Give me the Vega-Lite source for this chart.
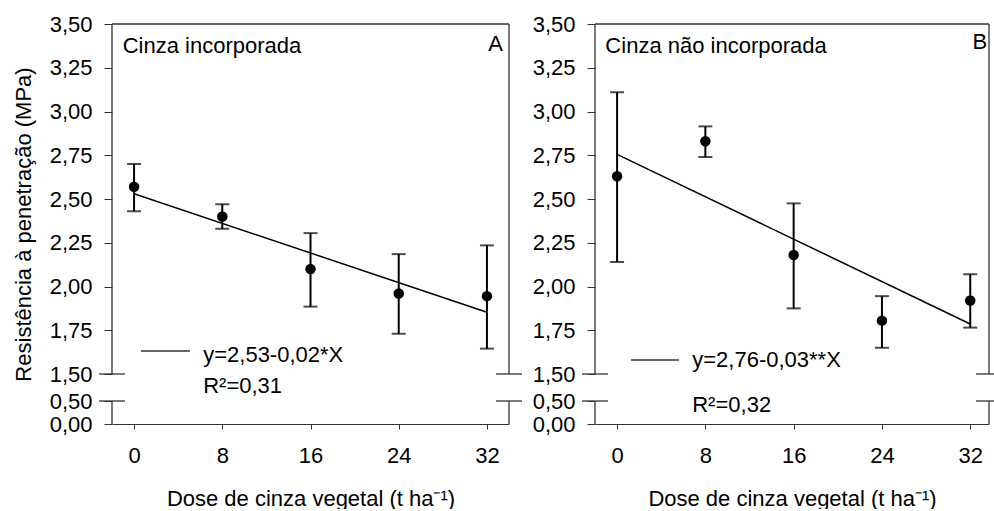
{
  "$schema": "https://vega.github.io/schema/vega-lite/v6.json",
  "background": "white",
  "padding": {"left": 12, "top": 13, "right": 0, "bottom": 0},
  "bounds": "flush",
  "spacing": 86,
  "config": {
    "view": {"stroke": null},
    "font": "Liberation Sans",
    "axis": {"labelFont": "Liberation Sans", "labelFontSize": 22, "labelColor": "black", "titleFont": "Liberation Sans", "titleFontSize": 22, "titleFontWeight": "normal", "titleColor": "black", "tickColor": "#333", "domainColor": "#333", "grid": false, "labelOverlap": false},
    "text": {"font": "Liberation Sans", "fontSize": 22, "color": "black"},
    "rule": {"color": "#333", "strokeWidth": 1.3}
  },
  "datasets": {
    "a": [
      {"dose": 0, "rp": 2.57, "lo": 2.43, "hi": 2.70},
      {"dose": 8, "rp": 2.40, "lo": 2.33, "hi": 2.47},
      {"dose": 16, "rp": 2.10, "lo": 1.885, "hi": 2.305},
      {"dose": 24, "rp": 1.96, "lo": 1.73, "hi": 2.185},
      {"dose": 32, "rp": 1.945, "lo": 1.645, "hi": 2.235}
    ],
    "b": [
      {"dose": 0, "rp": 2.63, "lo": 2.14, "hi": 3.11},
      {"dose": 8, "rp": 2.83, "lo": 2.74, "hi": 2.915},
      {"dose": 16, "rp": 2.18, "lo": 1.875, "hi": 2.475},
      {"dose": 24, "rp": 1.805, "lo": 1.65, "hi": 1.945},
      {"dose": 32, "rp": 1.92, "lo": 1.765, "hi": 2.07}
    ],
    "fitA": [{"dose": 0, "fit": 2.53}, {"dose": 32, "fit": 1.853}],
    "fitB": [{"dose": 0, "fit": 2.755}, {"dose": 32, "fit": 1.786}],
    "one": [{}]
  },
  "hconcat": [
    {
      "width": 397,
      "height": 400,
      "layer": [
        {
          "data": {"name": "a"},
          "mark": {"type": "rule", "color": "black", "strokeWidth": 2},
          "encoding": {
            "x": {"field": "dose", "type": "quantitative", "scale": {"domain": [-2, 34], "nice": false, "zero": false},
              "axis": {"values": [0, 8, 16, 24, 32], "tickCount": 20, "tickSize": 5, "labelPadding": 16, "title": "Dose de cinza vegetal (t ha⁻¹)", "titlePadding": 22}},
            "y": {"field": "lo", "type": "quantitative", "scale": {"domain": [0, 0.5, 1.5, 3.5], "range": [400, 377, 350, 0], "nice": false, "zero": false},
              "axis": {"values": [0, 0.5, 1.5, 1.75, 2, 2.25, 2.5, 2.75, 3, 3.25, 3.5], "tickCount": 30, "labelOverlap": false, "labelExpr": "replace(format(datum.value, '.2f'), '.', ',')", "domain": false, "tickSize": 8, "labelPadding": 12, "title": "Resistência à penetração (MPa)", "titlePadding": 14}},
            "y2": {"field": "hi"}
          }
        },
        {
          "data": {"name": "a"},
          "mark": {"type": "tick", "orient": "horizontal", "size": 14, "thickness": 2, "color": "black"},
          "encoding": {"x": {"field": "dose", "type": "quantitative"}, "y": {"field": "lo", "type": "quantitative"}}
        },
        {
          "data": {"name": "a"},
          "mark": {"type": "tick", "orient": "horizontal", "size": 14, "thickness": 2, "color": "black"},
          "encoding": {"x": {"field": "dose", "type": "quantitative"}, "y": {"field": "hi", "type": "quantitative"}}
        },
        {
          "data": {"name": "a"},
          "mark": {"type": "circle", "size": 110, "color": "black", "opacity": 1},
          "encoding": {"x": {"field": "dose", "type": "quantitative"}, "y": {"field": "rp", "type": "quantitative"}}
        },
        {
          "data": {"name": "fitA"},
          "mark": {"type": "line", "color": "black", "strokeWidth": 1.5},
          "encoding": {"x": {"field": "dose", "type": "quantitative"}, "y": {"field": "fit", "type": "quantitative"}}
        },
        {"data": {"name": "one"}, "mark": "rule", "encoding": {"x": {"datum": -2}, "y": {"datum": 1.5}, "y2": {"datum": 3.5}}},
        {"data": {"name": "one"}, "mark": "rule", "encoding": {"x": {"datum": -2}, "y": {"datum": 0}, "y2": {"datum": 0.5}}},
        {"data": {"name": "one"}, "mark": "rule", "encoding": {"x": {"datum": 34}, "y": {"datum": 1.5}, "y2": {"datum": 3.5}}},
        {"data": {"name": "one"}, "mark": "rule", "encoding": {"x": {"datum": 34}, "y": {"datum": 0}, "y2": {"datum": 0.5}}},
        {"data": {"name": "one"}, "mark": "rule", "encoding": {"x": {"datum": -2}, "x2": {"datum": 34}, "y": {"datum": 3.5}}},
        {"data": {"name": "one"}, "mark": "rule", "encoding": {"x": {"datum": -3.18}, "x2": {"datum": -0.82}, "y": {"datum": 1.5}}},
        {"data": {"name": "one"}, "mark": "rule", "encoding": {"x": {"datum": -3.18}, "x2": {"datum": -0.82}, "y": {"datum": 0.5}}},
        {"data": {"name": "one"}, "mark": "rule", "encoding": {"x": {"datum": 32.82}, "x2": {"datum": 35.18}, "y": {"datum": 1.5}}},
        {"data": {"name": "one"}, "mark": "rule", "encoding": {"x": {"datum": 32.82}, "x2": {"datum": 35.18}, "y": {"datum": 0.5}}},
        {"data": {"name": "one"}, "mark": {"type": "rule", "strokeWidth": 1.5}, "encoding": {"x": {"datum": 0.63}, "x2": {"datum": 5.07}, "y": {"datum": 1.631}}},
        {"data": {"name": "one"}, "mark": {"type": "text", "text": "y=2,53-0,02*X", "align": "left", "baseline": "alphabetic"}, "encoding": {"x": {"datum": 6.27}, "y": {"datum": 1.569}}},
        {"data": {"name": "one"}, "mark": {"type": "text", "text": "R²=0,31", "align": "left", "baseline": "alphabetic"}, "encoding": {"x": {"datum": 6.27}, "y": {"datum": 0.796}}},
        {"data": {"name": "one"}, "mark": {"type": "text", "text": "Cinza incorporada", "align": "left", "baseline": "alphabetic"}, "encoding": {"x": {"datum": -1.03}, "y": {"datum": 3.336}}},
        {"data": {"name": "one"}, "mark": {"type": "text", "text": "A", "align": "right", "baseline": "alphabetic"}, "encoding": {"x": {"datum": 33.45}, "y": {"datum": 3.346}}}
      ]
    },
    {
      "width": 394,
      "height": 400,
      "layer": [
        {
          "data": {"name": "b"},
          "mark": {"type": "rule", "color": "black", "strokeWidth": 2},
          "encoding": {
            "x": {"field": "dose", "type": "quantitative", "scale": {"domain": [-2, 33.7], "nice": false, "zero": false},
              "axis": {"values": [0, 8, 16, 24, 32], "tickCount": 20, "tickSize": 5, "labelPadding": 16, "title": "Dose de cinza vegetal (t ha⁻¹)", "titlePadding": 22}},
            "y": {"field": "lo", "type": "quantitative", "scale": {"domain": [0, 0.5, 1.5, 3.5], "range": [400, 377, 350, 0], "nice": false, "zero": false},
              "axis": {"values": [0, 0.5, 1.5, 1.75, 2, 2.25, 2.5, 2.75, 3, 3.25, 3.5], "tickCount": 30, "labelOverlap": false, "labelExpr": "replace(format(datum.value, '.2f'), '.', ',')", "domain": false, "tickSize": 8, "labelPadding": 12, "title": null}},
            "y2": {"field": "hi"}
          }
        },
        {
          "data": {"name": "b"},
          "mark": {"type": "tick", "orient": "horizontal", "size": 14, "thickness": 2, "color": "black"},
          "encoding": {"x": {"field": "dose", "type": "quantitative"}, "y": {"field": "lo", "type": "quantitative"}}
        },
        {
          "data": {"name": "b"},
          "mark": {"type": "tick", "orient": "horizontal", "size": 14, "thickness": 2, "color": "black"},
          "encoding": {"x": {"field": "dose", "type": "quantitative"}, "y": {"field": "hi", "type": "quantitative"}}
        },
        {
          "data": {"name": "b"},
          "mark": {"type": "circle", "size": 110, "color": "black", "opacity": 1},
          "encoding": {"x": {"field": "dose", "type": "quantitative"}, "y": {"field": "rp", "type": "quantitative"}}
        },
        {
          "data": {"name": "fitB"},
          "mark": {"type": "line", "color": "black", "strokeWidth": 1.5},
          "encoding": {"x": {"field": "dose", "type": "quantitative"}, "y": {"field": "fit", "type": "quantitative"}}
        },
        {"data": {"name": "one"}, "mark": "rule", "encoding": {"x": {"datum": -2}, "y": {"datum": 1.5}, "y2": {"datum": 3.5}}},
        {"data": {"name": "one"}, "mark": "rule", "encoding": {"x": {"datum": -2}, "y": {"datum": 0}, "y2": {"datum": 0.5}}},
        {"data": {"name": "one"}, "mark": "rule", "encoding": {"x": {"datum": 33.7}, "y": {"datum": 1.5}, "y2": {"datum": 3.5}}},
        {"data": {"name": "one"}, "mark": "rule", "encoding": {"x": {"datum": 33.7}, "y": {"datum": 0}, "y2": {"datum": 0.5}}},
        {"data": {"name": "one"}, "mark": "rule", "encoding": {"x": {"datum": -2}, "x2": {"datum": 33.7}, "y": {"datum": 3.5}}},
        {"data": {"name": "one"}, "mark": "rule", "encoding": {"x": {"datum": -3.18}, "x2": {"datum": -0.82}, "y": {"datum": 1.5}}},
        {"data": {"name": "one"}, "mark": "rule", "encoding": {"x": {"datum": -3.18}, "x2": {"datum": -0.82}, "y": {"datum": 0.5}}},
        {"data": {"name": "one"}, "mark": "rule", "encoding": {"x": {"datum": 32.52}, "x2": {"datum": 34.88}, "y": {"datum": 1.5}}},
        {"data": {"name": "one"}, "mark": "rule", "encoding": {"x": {"datum": 32.52}, "x2": {"datum": 34.88}, "y": {"datum": 0.5}}},
        {"data": {"name": "one"}, "mark": {"type": "rule", "strokeWidth": 1.5}, "encoding": {"x": {"datum": 1.27}, "x2": {"datum": 5.61}, "y": {"datum": 1.58}}},
        {"data": {"name": "one"}, "mark": {"type": "text", "text": "y=2,76-0,03**X", "align": "left", "baseline": "alphabetic"}, "encoding": {"x": {"datum": 6.81}, "y": {"datum": 1.54}}},
        {"data": {"name": "one"}, "mark": {"type": "text", "text": "R²=0,32", "align": "left", "baseline": "alphabetic"}, "encoding": {"x": {"datum": 6.81}, "y": {"datum": 0.261}}},
        {"data": {"name": "one"}, "mark": {"type": "text", "text": "Cinza não incorporada", "align": "left", "baseline": "alphabetic"}, "encoding": {"x": {"datum": -1.06}, "y": {"datum": 3.333}}},
        {"data": {"name": "one"}, "mark": {"type": "text", "text": "B", "align": "right", "baseline": "alphabetic"}, "encoding": {"x": {"datum": 33.54}, "y": {"datum": 3.36}}}
      ]
    }
  ]
}
